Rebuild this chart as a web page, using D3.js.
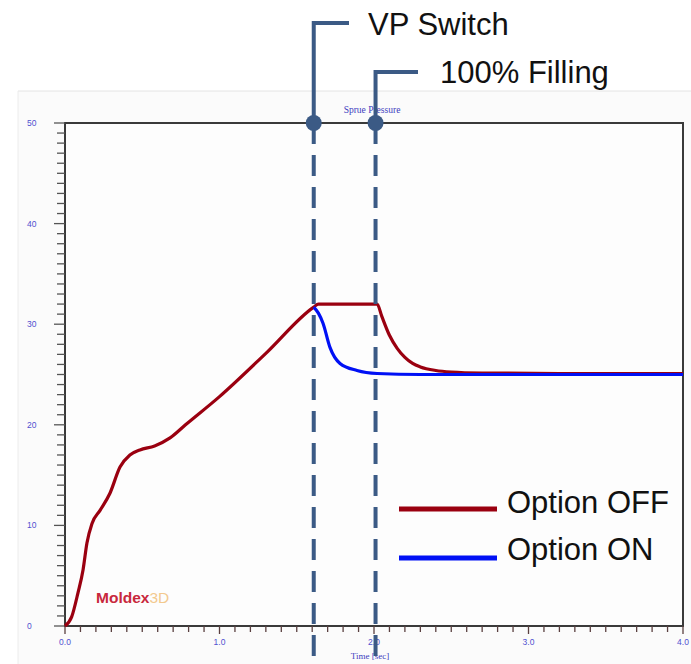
<!DOCTYPE html>
<html><head><meta charset="utf-8">
<script src="https://cdn.jsdelivr.net/npm/d3@7"></script>
<style>body{margin:0;background:#fff;} svg{display:block;}</style>
</head><body>
<script>
// Data
const offTime = [0,0.043,0.084,0.117,0.142,0.175,0.227,0.291,0.356,0.42,0.485,0.58,0.68,0.78,1.0,1.3,1.61,1.64,1.8,2.02,2.05,2.1,2.15,2.2,2.25,2.3,2.4,2.5,2.7,3.2,4.0];
const offPressure = [0,0.9,3.3,5.6,8.25,10.2,11.5,13.2,15.8,17.0,17.5,17.9,18.7,20.0,22.8,27.1,31.7,32.0,32.0,32.0,30.8,28.9,27.6,26.7,26.1,25.75,25.4,25.25,25.15,25.1,25.1];
const onTime = [1.61,1.64,1.67,1.715,1.78,1.89,2.02,2.3,3.0,4.0];
const onPressure = [31.7,31.1,30.1,27.7,26.1,25.4,25.1,25.0,25.0,25.0];
const yTicks = [0,10,20,30,40,50];
const xTicks = [0,1,2,3,4];
const xTickLabels = ["0.0","1.0","2.0","3.0","4.0"];
const markers = [{t:1.61,label:"VP Switch"},{t:2.01,label:"100% Filling"}];
const legendItems = [{label:"Option OFF",color:"#9a0010"},{label:"Option ON",color:"#0010f5"}];

const W=691,H=664;
const svg=d3.select("body").append("svg").attr("width",W).attr("height",H);
const x=d3.scaleLinear().domain([0,4]).range([65,683]);
const y=d3.scaleLinear().domain([0,50]).range([626,123]);

// panel background
svg.append("rect").attr("x",18).attr("y",91).attr("width",W-18).attr("height",H-91).attr("fill","#fbfbfb");
svg.append("line").attr("x1",18).attr("x2",W).attr("y1",91).attr("y2",91).attr("stroke","#e4e4e4");
svg.append("line").attr("x1",18).attr("x2",18).attr("y1",91).attr("y2",H).attr("stroke","#ececec");

// plot frame
svg.append("rect").attr("x",x(0)).attr("y",y(50)).attr("width",x(4)-x(0)).attr("height",y(0)-y(50))
  .attr("fill","#fdfdfd").attr("stroke","#3a3a3a").attr("stroke-width",2);

// y ticks (minor every 1)
const yMinor=d3.range(0,51,1);
svg.append("g").selectAll("line").data(yMinor).join("line")
  .attr("x1",d=>d%10===0?x(0)-11:x(0)-8).attr("x2",x(0)).attr("y1",d=>y(d)).attr("y2",d=>y(d))
  .attr("stroke","#555").attr("stroke-width",1.3);
svg.append("g").selectAll("text").data(yTicks).join("text")
  .attr("x",27).attr("y",d=>y(d)+3).text(d=>d)
  .attr("font-family","Liberation Sans, Arial, sans-serif").attr("font-size",8.5).attr("fill","#5050d0");

// x ticks (minor every 0.1)
const xMinor=d3.range(0,41,1).map(i=>i/10);
svg.append("g").selectAll("line").data(xMinor).join("line")
  .attr("x1",d=>x(d)).attr("x2",d=>x(d)).attr("y1",y(0)).attr("y2",(d,i)=>i%10===0?y(0)+8:y(0)+6)
  .attr("stroke","#5a4040").attr("stroke-width",1.3);
svg.append("g").selectAll("text").data(xTicks).join("text")
  .attr("x",d=>x(d)).attr("y",645).attr("text-anchor","middle").text((d,i)=>xTickLabels[i])
  .attr("font-family","Liberation Sans, Arial, sans-serif").attr("font-size",8.5).attr("fill","#5050d0");
svg.append("text").attr("x",370).attr("y",659).attr("text-anchor","middle").text("Time [sec]")
  .attr("font-family","Liberation Serif, serif").attr("font-size",9).attr("fill","#4040c0");
svg.append("text").attr("x",372).attr("y",113).attr("text-anchor","middle").text("Sprue Pressure")
  .attr("font-family","Liberation Serif, serif").attr("font-size",9.5).attr("fill","#4040c0");

// logo
const logo=svg.append("text").attr("x",96).attr("y",603).attr("font-family","Liberation Sans, Arial, sans-serif")
  .attr("font-size",15.5).attr("font-weight","bold");
logo.append("tspan").text("Moldex").attr("fill","#c8283c");
logo.append("tspan").text("3D").attr("fill","#f3c98e").attr("font-weight","normal");

// curves
const line=d3.line().x(d=>x(d[0])).y(d=>y(d[1])).curve(d3.curveMonotoneX);
svg.append("path").datum(offTime.map((t,i)=>[t,offPressure[i]])).attr("d",line)
  .attr("fill","none").attr("stroke","#9a0010").attr("stroke-width",3.2);
svg.append("path").datum(onTime.map((t,i)=>[t,onPressure[i]])).attr("d",line)
  .attr("fill","none").attr("stroke","#0010f5").attr("stroke-width",3.2);

// markers
const mc="#3b5a85";
const mk=[{ly:23,hx:349,tx:368,ty:35},{ly:72,hx:418,tx:440,ty:83}];
markers.forEach((m,i)=>{
  const g=svg.append("g"), px=x(m.t), c=mk[i];
  g.append("line").attr("x1",px).attr("x2",px).attr("y1",y(50)).attr("y2",660)
    .attr("stroke",mc).attr("stroke-width",4).attr("stroke-dasharray","21,11");
  g.append("path").attr("d",`M${px},${y(50)}V${c.ly}H${c.hx}`).attr("fill","none").attr("stroke",mc).attr("stroke-width",4);
  g.append("circle").attr("cx",px).attr("cy",y(50)).attr("r",8).attr("fill",mc);
  g.append("text").attr("x",c.tx).attr("y",c.ty).text(m.label)
    .attr("font-family","Liberation Sans, Arial, sans-serif").attr("font-size",31).attr("fill","#111");
});

// legend
legendItems.forEach((d,i)=>{
  const ly=509+i*49;
  svg.append("line").attr("x1",399).attr("x2",497).attr("y1",ly).attr("y2",ly).attr("stroke",d.color).attr("stroke-width",5);
  svg.append("text").attr("x",507).attr("y",513+i*47).text(d.label)
    .attr("font-family","Liberation Sans, Arial, sans-serif").attr("font-size",31).attr("fill","#111");
});
</script>
</body></html>
